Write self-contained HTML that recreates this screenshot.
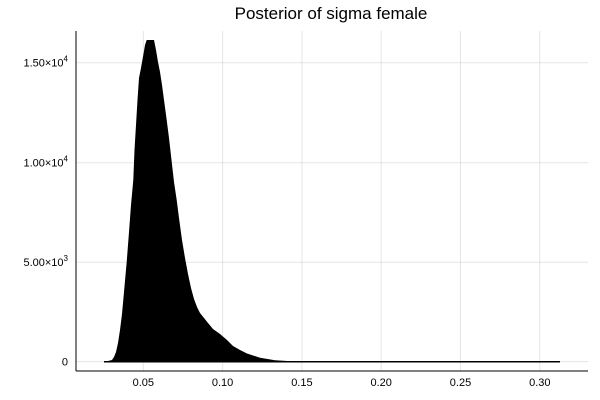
<!DOCTYPE html>
<html><head><style>body{margin:0;background:#fff}svg{display:block}text{font-family:"Liberation Sans","DejaVu Sans",sans-serif;fill:#000}</style></head>
<body><svg width="600" height="400" viewBox="0 0 600 400" xmlns="http://www.w3.org/2000/svg">
<rect width="600" height="400" fill="#fff"/>
<g stroke="#000" stroke-opacity="0.1" stroke-width="1">
<line x1="143.3" y1="31" x2="143.3" y2="371"/><line x1="222.6" y1="31" x2="222.6" y2="371"/><line x1="301.9" y1="31" x2="301.9" y2="371"/><line x1="381.2" y1="31" x2="381.2" y2="371"/><line x1="460.5" y1="31" x2="460.5" y2="371"/><line x1="539.8" y1="31" x2="539.8" y2="371"/>
<line x1="76" y1="361.6" x2="588" y2="361.6"/><line x1="76" y1="262.2" x2="588" y2="262.2"/><line x1="76" y1="162.8" x2="588" y2="162.8"/><line x1="76" y1="62.7" x2="588" y2="62.7"/>
</g>
<path d="M105,361.7 L112,360 114,357 116,352 118,343 120,330 122,314 124,292 126.7,262 129,232 131,205 133.3,180 134.5,150 136,125 137.5,100 139,78 141,68 143.3,55 145,45 146.7,40 154,40 156,50 158,62 160,72 162,85 164,100 166.7,120 169,138 171.5,160 174,182 176.7,200 179,218 182,240 185,258 188,274 191,288 194,299 197,307 200,313 204,318 208,323 213,329 220,334 227,340 233,346 240,350 247,353.5 260,357.7 275,360.3 300,361.7 Z" fill="#000"/>
<line x1="104" y1="361.8" x2="560" y2="361.8" stroke="#000" stroke-width="1.5"/>
<line x1="76" y1="31" x2="76" y2="371" stroke="#000" stroke-width="1"/>
<line x1="76" y1="371" x2="588" y2="371" stroke="#000" stroke-width="1"/>
<g font-size="11" text-anchor="middle">
<text x="143.3" y="386">0.05</text><text x="222.6" y="386">0.10</text><text x="301.9" y="386">0.15</text><text x="381.2" y="386">0.20</text><text x="460.5" y="386">0.25</text><text x="539.8" y="386">0.30</text>
</g>
<g font-size="11" text-anchor="end">
<text x="68" y="365.5">0</text>
<text x="68" y="266">5.00×10<tspan font-size="8" dy="-5">3</tspan></text>
<text x="68" y="166.5">1.00×10<tspan font-size="8" dy="-5">4</tspan></text>
<text x="68" y="66.5">1.50×10<tspan font-size="8" dy="-5">4</tspan></text>
</g>
<text x="331" y="19" font-size="17" text-anchor="middle">Posterior of sigma female</text>
</svg></body></html>
